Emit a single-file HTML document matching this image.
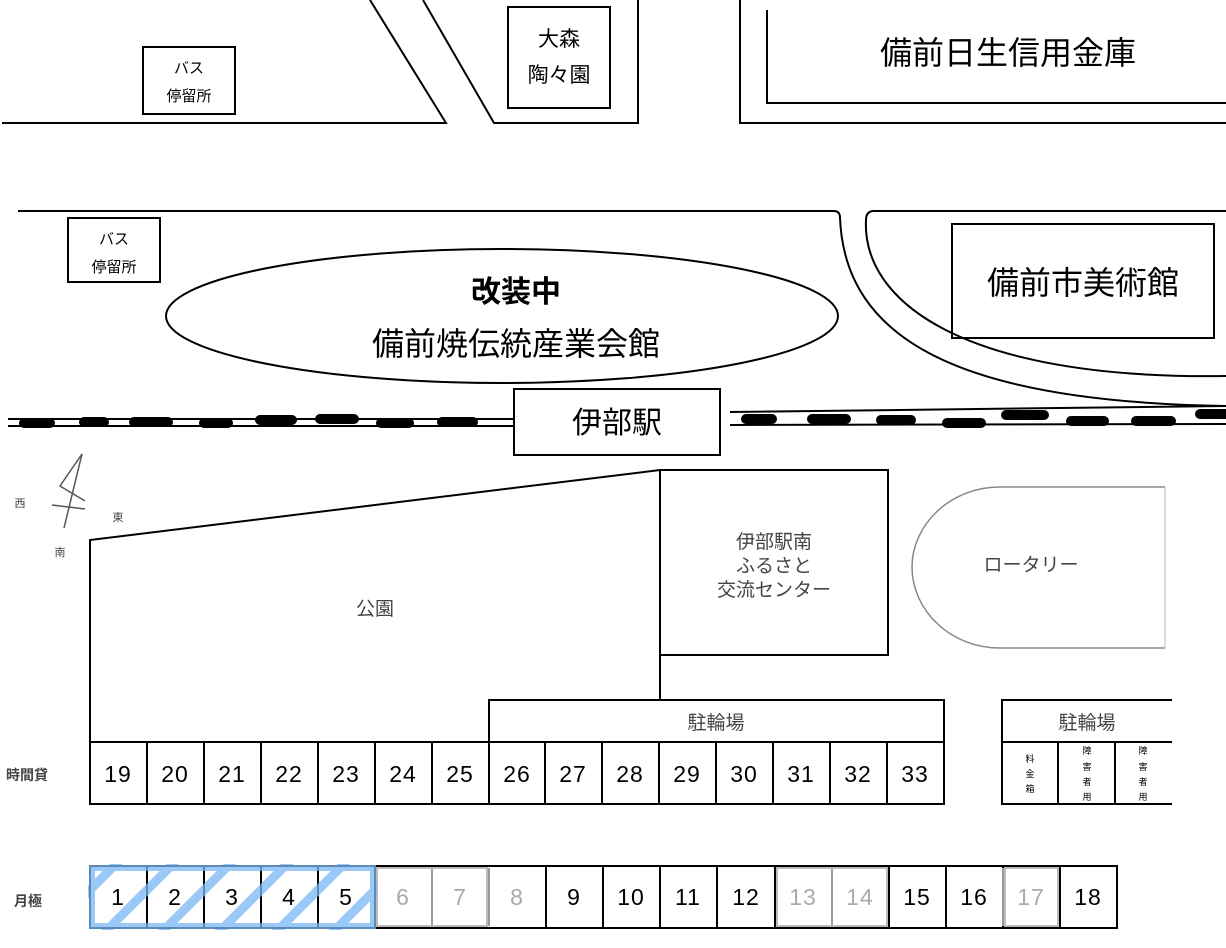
<!DOCTYPE html>
<html><head><meta charset="utf-8"><style>
html,body{margin:0;padding:0;background:#fff;width:1226px;height:948px;overflow:hidden}
svg{display:block}
text{font-family:"Liberation Sans","Noto Sans CJK JP",sans-serif;fill:#000}
.n{font-size:23px;text-anchor:middle;fill:#222;letter-spacing:1px}
.g{fill:#aaa}
.s{fill:#444}
</style></head><body>
<svg width="1226" height="948" viewBox="0 0 1226 948" xmlns="http://www.w3.org/2000/svg">
<defs>
<clipPath id="hc"><rect x="88" y="864" width="289" height="66"/></clipPath>
</defs>
<g fill="none" stroke="#000" stroke-width="2">
<polyline points="2,123 446,123 370,0"/>
<polyline points="423,0 494,123 638,123 638,0"/>
<polyline points="740,0 740,123 1226,123"/>
<polyline points="767,10 767,103 1226,103"/>
<rect x="508" y="7" width="102" height="101"/>
<rect x="143" y="47" width="92" height="67"/>
<rect x="68" y="218" width="92" height="64"/>
<line x1="18" y1="211" x2="834" y2="211"/>
<path d="M834,211 Q840,211 840,218 C845,340 960,402 1226,406"/>
<path d="M1226,211 L874,211 Q866,211 866,220 C862,300 960,380 1226,376"/>
<rect x="952" y="224" width="262" height="114"/>
<ellipse cx="502" cy="316" rx="336" ry="67"/>
<line x1="8" y1="419" x2="514" y2="419"/>
<line x1="8" y1="426" x2="514" y2="426"/>
<line x1="730" y1="412" x2="1226" y2="406"/>
<line x1="730" y1="425" x2="1226" y2="424"/>
<rect x="514" y="389" width="206" height="66"/>
<g stroke="#555" stroke-width="1.5">
<path d="M82,454 L60,486 L85,501"/>
<line x1="82" y1="454" x2="64" y2="528"/>
<line x1="52" y1="505" x2="85" y2="509"/>
</g>
<polyline points="90,805 90,540 660,470"/>
<rect x="660" y="470" width="228" height="185"/>
<line x1="660" y1="655" x2="660" y2="700"/>
<rect x="489" y="700" width="455" height="42"/>
<path d="M1165,487 L1000,487 C950,487 912,525 912,567 C912,610 950,648 1000,648 L1165,648" stroke="#888" stroke-width="1.5"/>
<line x1="1165" y1="487" x2="1165" y2="648" stroke="#bbb" stroke-width="1"/>
<rect x="90" y="742" width="854" height="62"/>
<path d="M147,742V804M204,742V804M261,742V804M318,742V804M375,742V804M432,742V804M489,742V804M545,742V804M602,742V804M659,742V804M716,742V804M773,742V804M830,742V804M887,742V804"/>
<path d="M1172,700 L1002,700 L1002,804 L1172,804 M1002,742 H1172 M1058,742V804 M1115,742V804"/>
<rect x="90" y="866" width="1027" height="62"/>
<path d="M147,866V928M204,866V928M261,866V928M318,866V928M375,866V928M546,866V928M603,866V928M660,866V928M717,866V928M775,866V928M889,866V928M946,866V928M1003,866V928M1060,866V928"/>
<path d="M432,868V926M489,868V926M832,868V926M1003,868V926" stroke="#999"/>
<rect x="377" y="868" width="110" height="58" stroke="#bbb"/>
<rect x="777" y="868" width="110" height="58" stroke="#bbb"/>
<rect x="1005" y="868" width="53" height="58" stroke="#bbb"/>
</g>
<g stroke="#000" stroke-width="10" stroke-linecap="round">
<path d="M24,423H50M84,422H104M134,422H168M204,423H228M260,420H292M320,419H354M381,423H409M442,422H473"/>
<path d="M746,419H772M812,419H846M881,420H911M947,423H981M1006,415H1044M1071,421H1104M1136,421H1171M1200,414H1226"/>
</g>
<g clip-path="url(#hc)" stroke="#7ab8f5" stroke-width="9" stroke-linecap="round" opacity="0.75">
<path d="M40,940L120,860M97,940L177,860M154,940L234,860M211,940L291,860M268,940L348,860M325,940L405,860M382,940L462,860"/>
<rect x="92" y="868" width="281" height="58" fill="none" stroke-width="6"/>
</g>
<text x="189" y="73" font-size="15" text-anchor="middle">バス</text>
<text x="189" y="101" font-size="15" text-anchor="middle">停留所</text>
<text x="114" y="244" font-size="15" text-anchor="middle">バス</text>
<text x="114" y="272" font-size="15" text-anchor="middle">停留所</text>
<text x="559" y="46" font-size="21" text-anchor="middle">大森</text>
<text x="559" y="82" font-size="21" text-anchor="middle">陶々園</text>
<text x="1008" y="64" font-size="32" text-anchor="middle">備前日生信用金庫</text>
<text x="1083" y="294" font-size="32" text-anchor="middle">備前市美術館</text>
<text x="516" y="302" font-size="30" font-weight="bold" text-anchor="middle">改装中</text>
<text x="516" y="355" font-size="32" text-anchor="middle">備前焼伝統産業会館</text>
<text x="617" y="433" font-size="30" text-anchor="middle">伊部駅</text>
<text x="20" y="507" font-size="11" class="s" text-anchor="middle">西</text>
<text x="118" y="521" font-size="11" class="s" text-anchor="middle">東</text>
<text x="60" y="556" font-size="11" class="s" text-anchor="middle">南</text>
<text x="375" y="615" font-size="19" class="s" text-anchor="middle">公園</text>
<text x="774" y="548" font-size="19" class="s" text-anchor="middle">伊部駅南</text>
<text x="774" y="572" font-size="19" class="s" text-anchor="middle">ふるさと</text>
<text x="774" y="596" font-size="19" class="s" text-anchor="middle">交流センター</text>
<text x="1031" y="571" font-size="19" class="s" text-anchor="middle">ロータリー</text>
<text x="716" y="729" font-size="19" class="s" text-anchor="middle">駐輪場</text>
<text x="1087" y="729" font-size="19" class="s" text-anchor="middle">駐輪場</text>
<g font-size="9" class="s" text-anchor="middle">
<text x="1030" y="762">料</text><text x="1030" y="777">金</text><text x="1030" y="792">箱</text>
<text x="1087" y="754">障</text><text x="1087" y="770">害</text><text x="1087" y="785">者</text><text x="1087" y="800">用</text>
<text x="1143" y="754">障</text><text x="1143" y="770">害</text><text x="1143" y="785">者</text><text x="1143" y="800">用</text>
</g>
<text x="6" y="780" font-size="14" font-weight="bold" class="s">時間貸</text>
<text x="14" y="906" font-size="14" font-weight="bold" class="s">月極</text>
<g class="n">
<text x="118" y="782">19</text><text x="175" y="782">20</text><text x="232" y="782">21</text><text x="289" y="782">22</text><text x="346" y="782">23</text><text x="403" y="782">24</text><text x="460" y="782">25</text><text x="517" y="782">26</text><text x="573" y="782">27</text><text x="630" y="782">28</text><text x="687" y="782">29</text><text x="744" y="782">30</text><text x="801" y="782">31</text><text x="858" y="782">32</text><text x="915" y="782">33</text>
<text x="118" y="905">1</text><text x="175" y="905">2</text><text x="232" y="905">3</text><text x="289" y="905">4</text><text x="346" y="905">5</text>
<text x="403" y="905" class="g">6</text><text x="460" y="905" class="g">7</text><text x="517" y="905" class="g">8</text>
<text x="574" y="905">9</text><text x="631" y="905">10</text><text x="688" y="905">11</text><text x="746" y="905">12</text>
<text x="803" y="905" class="g">13</text><text x="860" y="905" class="g">14</text>
<text x="917" y="905">15</text><text x="974" y="905">16</text><text x="1031" y="905" class="g">17</text><text x="1088" y="905">18</text>
</g>
</svg>
</body></html>
